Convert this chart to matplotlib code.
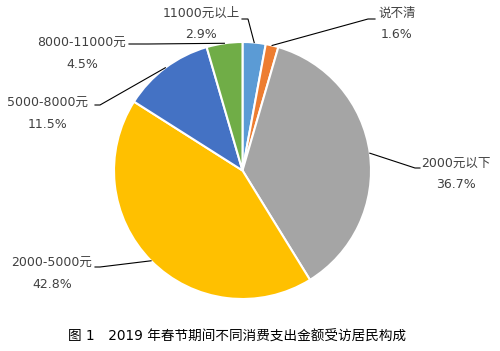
import numpy as np
import matplotlib
matplotlib.use("Agg")
import matplotlib.pyplot as plt

# DejaVu for digits (wide like the original), Noto CJK for the Chinese characters
plt.rcParams['font.family'] = ['DejaVu Sans', 'Noto Sans CJK SC']

# data
categories = ["11000元以上", "说不清", "2000元以下", "2000-5000元", "5000-8000元", "8000-11000元"]
shares = [2.9, 1.6, 36.7, 42.8, 11.5, 4.5]
colors = ["#5B9BD5", "#ED7D31", "#A5A5A5", "#FFC000", "#4472C4", "#70AD47"]
caption = "图 1\u30002019 年春节期间不同消费支出金额受访居民构成"

W, H = 500, 351
CX, CY, R = 242.5, 170.5, 128.5   # pie centre / radius in pixels (y down)

# label layout: text centre x, first line y, elbow point, line end (pixels, y down)
label_pos = [(201, 13), (397, 13), (456, 163), (52, 263), (48, 103), (82, 43)]
elbows = [(248, 19), (368, 19), (415, 168), (100, 267), (100, 105), (148, 44)]
ends = [(242, 19), (375, 19), (420, 168), (95, 267), (95, 105), (129, 44)]


def fy(y):
    return H - y


fig = plt.figure(figsize=(W / 100, H / 100), dpi=100)
ax = fig.add_axes([0, 0, 1, 1])

wedges, _ = ax.pie(shares, colors=colors, startangle=90, counterclock=False,
                   center=(CX, fy(CY)), radius=R,
                   wedgeprops=dict(edgecolor='white', linewidth=1.5))
ax.set_xlim(0, W)
ax.set_ylim(0, H)
ax.set_aspect('equal')
ax.axis('off')

total = sum(shares)
cum = np.cumsum([0] + shares[:-1])
for i, (cat, val) in enumerate(zip(categories, shares)):
    mid = np.deg2rad(90 - (cum[i] + val / 2) / total * 360)
    ax_x = CX + R * np.cos(mid)
    ax_y = fy(CY) + R * np.sin(mid)
    ex, ey = elbows[i]
    nx, ny = ends[i]
    ax.plot([ax_x, ex, nx], [ax_y, fy(ey), fy(ny)], color='black', lw=0.8,
            solid_joinstyle='miter')
    tx, ty = label_pos[i]
    ax.text(tx, fy(ty), cat, ha='center', va='center', fontsize=9, color='#404040')
    ax.text(tx, fy(ty + 22), f"{val:.1f}%", ha='center', va='center',
            fontsize=9, color='#404040')

ax.text(237.5, fy(337), caption, ha='center', va='center', fontsize=9.8, color='black')

fig.savefig("out.png", dpi=100)
